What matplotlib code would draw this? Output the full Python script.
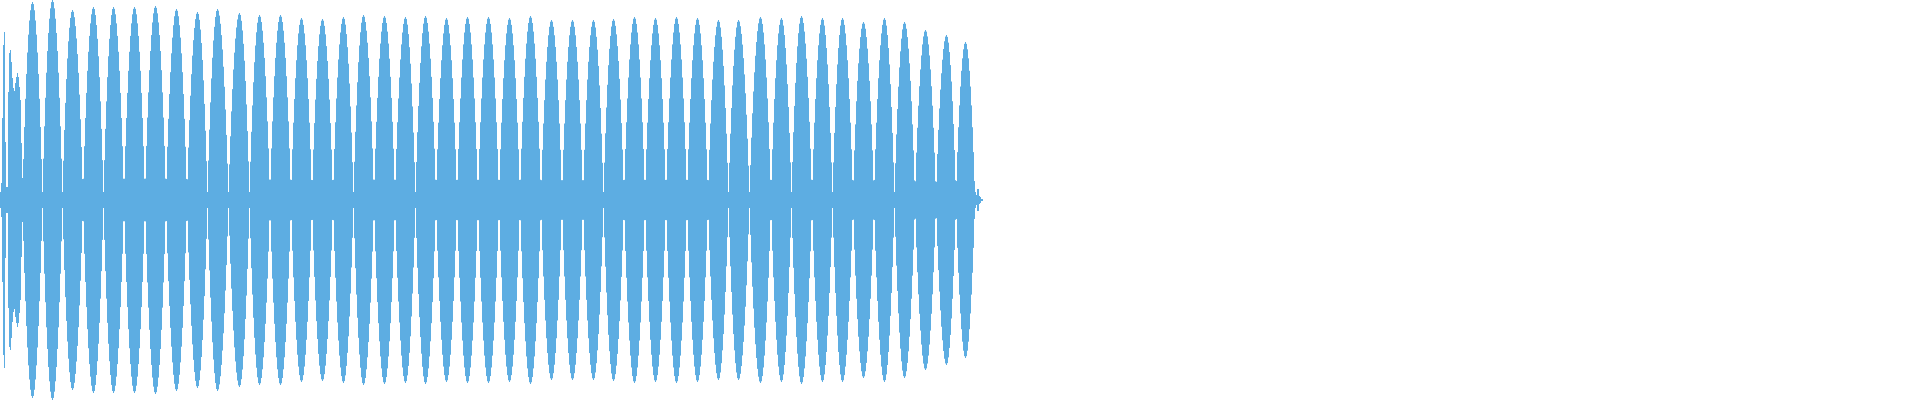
import numpy as np
import matplotlib
matplotlib.use("Agg")
import matplotlib.pyplot as plt

# ---- data (x in display columns, y in amplitude units) ----
lobe_times = [32, 52, 72, 93, 113, 134, 155, 176, 197, 217, 239, 259, 280, 301,
              322, 343, 363, 384, 405, 425, 446, 467, 488, 509, 530, 551, 572, 593,
              613, 634, 655, 676, 697, 718, 738, 760, 781, 801, 822, 842, 863, 884,
              904, 925, 946, 965]
lobe_peaks = [198, 200, 190, 193, 193, 193, 194, 191, 188, 191, 187, 185, 185, 182,
              181, 183, 185, 184, 183, 184, 182, 183, 183, 182, 184, 180, 180, 180,
              181, 183, 182, 183, 182, 180, 180, 183, 182, 184, 182, 182, 178, 182,
              178, 170, 165, 158]
onset_start = 0
onset_amps = [7, 17, 82, 155, 168, 58, 13, 13, 108, 147, 150, 138, 122, 112, 109,
              117, 123, 127, 123, 113, 100, 57, 22, 20]
tail_start = 974
tail_amps = [8, 8, 5, 11, 11, 4, 3, 1, 1]
trough_amp = 8

COLOR = "#5dade2"
N_COLS = 1920
LOBE_SHAPE = 0.85   # exponent of the lobe profile (style)

t = np.asarray(lobe_times, float)
P = np.asarray(lobe_peaks, float)


def envelope(x):
    x = np.asarray(x, float)
    out = np.zeros_like(x)
    for k in range(len(t)):
        left = (t[k] - t[k - 1]) if k > 0 else (t[1] - t[0])
        right = (t[k + 1] - t[k]) if k < len(t) - 1 else (t[-1] - t[-2])
        d = x - t[k]
        per = np.where(d < 0, left, right)
        c = np.clip(np.cos(np.pi * d / per), 0, None)
        v = np.where(np.abs(d) < per / 2, P[k] * c ** LOBE_SHAPE, 0.0)
        out = np.maximum(out, v)
    return out


last_col = tail_start + len(tail_amps)
cols = np.arange(last_col)
amps = envelope(cols)
amps[:tail_start] = np.maximum(amps[:tail_start], trough_amp)
o = np.asarray(onset_amps, float)
amps[onset_start:onset_start + len(o)] = np.maximum(amps[onset_start:onset_start + len(o)], o)
tl = np.asarray(tail_amps, float)
amps[tail_start:last_col] = np.maximum(amps[tail_start:last_col], tl)

fig = plt.figure(figsize=(19.2, 4.0), dpi=100)
ax = fig.add_axes([0, 0, 1, 1])
edges = np.arange(last_col + 1) - 0.5
ax.stairs(amps, edges, baseline=-amps, fill=True, color=COLOR, linewidth=0)
ax.set_xlim(-0.5, N_COLS - 0.5)
ax.set_ylim(-200, 200)
ax.axis("off")
fig.savefig("out.png", dpi=100, facecolor="white")
